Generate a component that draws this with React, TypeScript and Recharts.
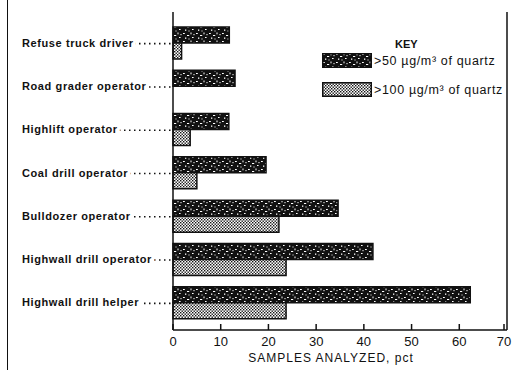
import { BarChart, Bar, XAxis, YAxis, ReferenceLine } from "recharts";

const occupations = [
  "Refuse truck driver",
  "Road grader operator",
  "Highlift operator",
  "Coal drill operator",
  "Bulldozer operator",
  "Highwall drill operator",
  "Highwall drill helper",
];
const over50 = [11.8, 13.0, 11.7, 19.5, 34.6, 41.9, 62.3];
const over100 = [1.8, 0, 3.6, 5.0, 22.2, 23.7, 23.7];
const xTicks = [0, 10, 20, 30, 40, 50, 60, 70];

const series = [
  { key: "over50", label: ">50 µg/m³ of quartz", fill: "url(#speckle)" },
  { key: "over100", label: ">100 µg/m³ of quartz", fill: "url(#stipple)" },
];

const data = occupations.map((name, i) => ({
  name,
  over50: over50[i],
  over100: over100[i],
}));

const ink = "#111";
const font = "'Liberation Sans', Arial, sans-serif";

function Patterns() {
  return (
    <defs>
      <pattern id="speckle" width="13" height="8" patternUnits="userSpaceOnUse">
        <rect width="13" height="8" fill={ink} />
        <rect x="1" y="1" width="1.8" height="1" fill="#fff" />
        <rect x="5" y="3" width="2.2" height="1" fill="#fff" />
        <rect x="8.5" y="0.5" width="1" height="1.8" fill="#fff" />
        <rect x="3" y="5.5" width="1.3" height="1.3" fill="#fff" />
        <rect x="10" y="5" width="1.6" height="1" fill="#fff" />
        <rect x="6.5" y="6.5" width="1" height="1" fill="#fff" />
        <rect x="11.5" y="2" width="1" height="1.2" fill="#fff" />
      </pattern>
      <pattern id="stipple" width="3" height="3" patternUnits="userSpaceOnUse">
        <rect width="3" height="3" fill="#fff" />
        <rect x="0" y="0" width="1.4" height="1.4" fill={ink} />
        <rect x="1.5" y="1.5" width="1.4" height="1.4" fill={ink} />
      </pattern>
    </defs>
  );
}

function YTick({ x, y, payload }: any) {
  return (
    <g>
      <line x1={24} x2={x} y1={y + 1} y2={y + 1} stroke={ink} strokeWidth={1.6} strokeDasharray="1.5 3.5" />
      <text
        x={22}
        y={y}
        dominantBaseline="central"
        fontFamily={font}
        fontWeight="bold"
        fontSize={11}
        letterSpacing={0.6}
        fill={ink}
        stroke="#fff"
        strokeWidth={6}
        paintOrder="stroke"
      >
        {payload.value}
      </text>
    </g>
  );
}

function BottomTick({ x, y, payload }: any) {
  return (
    <g>
      <line x1={x} x2={x} y1={y - 4} y2={y - 10} stroke={ink} strokeWidth={1.5} />
      <text x={x} y={y + 12} textAnchor="middle" fontFamily={font} fontSize={13} fill={ink}>
        {payload.value}
      </text>
    </g>
  );
}

function TopTick({ x, y }: any) {
  return <line x1={x} x2={x} y1={y} y2={y + 5} stroke={ink} strokeWidth={1.5} />;
}

function Key() {
  return (
    <div style={{ position: "absolute", left: 322, top: 38, fontFamily: font, color: ink }}>
      <div style={{ fontSize: 11, fontWeight: "bold", marginLeft: 73, marginBottom: 3 }}>KEY</div>
      {series.map((s) => (
        <div key={s.key} style={{ display: "flex", alignItems: "center", height: 15, marginBottom: 14 }}>
          <svg width={50} height={15}>
            <rect x={0.75} y={0.75} width={48.5} height={13.5} fill={s.fill} stroke={ink} strokeWidth={1.5} />
          </svg>
          <span style={{ fontSize: 12.5, letterSpacing: 0.65, marginLeft: 2, whiteSpace: "nowrap" }}>{s.label}</span>
        </div>
      ))}
    </div>
  );
}

export default function App() {
  return (
    <div style={{ position: "absolute", left: 0, top: 0, width: 512, height: 370, background: "#fff" }}>
      <div style={{ position: "absolute", left: 7, top: 0, width: 0, height: 370, borderLeft: "1.5px solid #111" }} />
      <BarChart
        width={512}
        height={370}
        data={data}
        layout="vertical"
        margin={{ top: 12, right: 5, left: 0, bottom: 0 }}
        barSize={16}
        barGap={0}
      >
        <Patterns />
        <XAxis
          type="number"
          domain={[0, 70]}
          ticks={xTicks}
          height={40}
          tickSize={0}
          tickMargin={4}
          tickLine={false}
          tick={<BottomTick />}
          axisLine={{ stroke: ink, strokeWidth: 1.5 }}
          label={{
            value: "SAMPLES ANALYZED, pct",
            position: "insideBottom",
            offset: 8,
            dx: -9,
            fill: ink,
            fontSize: 12,
            fontFamily: font,
            letterSpacing: 1,
          }}
        />
        <XAxis
          xAxisId="top"
          orientation="top"
          type="number"
          domain={[0, 70]}
          ticks={xTicks.slice(1, -1)}
          height={0}
          tickSize={0}
          tickMargin={0}
          tickLine={false}
          tick={<TopTick />}
          axisLine={{ stroke: ink, strokeWidth: 1.5 }}
        />
        <YAxis
          type="category"
          dataKey="name"
          width={173}
          tickSize={0}
          tickMargin={2}
          tickLine={false}
          tick={<YTick />}
          padding={{ top: 9, bottom: 6 }}
          axisLine={{ stroke: ink, strokeWidth: 1.5 }}
        />
        <ReferenceLine x={70} stroke={ink} strokeWidth={1.5} />
        {series.map((s) => (
          <Bar
            key={s.key}
            dataKey={s.key}
            name={s.label}
            fill={s.fill}
            stroke={ink}
            strokeWidth={1.5}
            isAnimationActive={false}
          />
        ))}
      </BarChart>
      <Key />
    </div>
  );
}
